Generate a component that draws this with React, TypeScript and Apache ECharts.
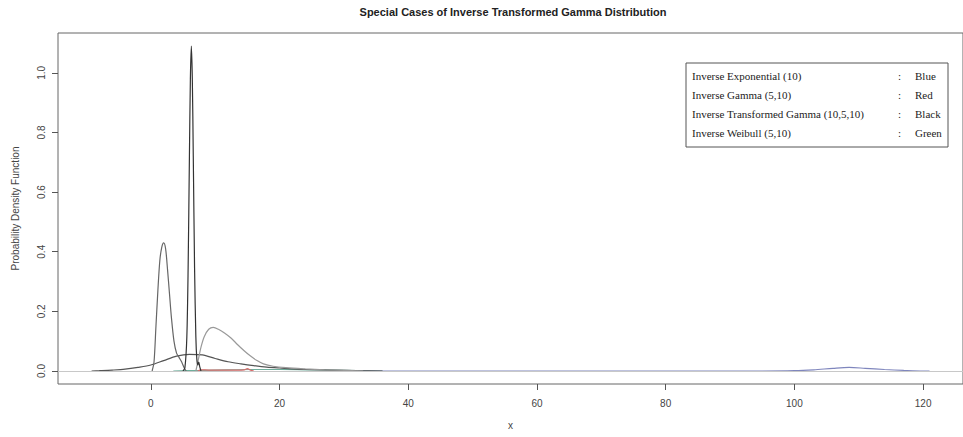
import React, { useEffect, useRef } from "react";
import * as echarts from "echarts";

const chartTitle = "Special Cases of Inverse Transformed Gamma Distribution";
const xTitle = "x";
const yTitle = "Probability Density Function";
const xTicks = [0, 20, 40, 60, 80, 100, 120];
const yTicks = [0, 0.2, 0.4, 0.6, 0.8, 1.0];

const legendNames = [
  "Inverse Exponential (10)",
  "Inverse Gamma (5,10)",
  "Inverse Transformed Gamma (10,5,10)",
  "Inverse Weibull (5,10)",
];
const legendColours = ["Blue", "Red", "Black", "Green"];

// narrow tall peak
const tallX = [5.0, 5.3, 5.6, 5.8, 6.0, 6.15, 6.3, 6.45, 6.6, 6.8, 7.0, 7.15, 7.3, 7.45, 7.6, 7.8];
const tallY = [0, 0.011, 0.115, 0.346, 0.72, 0.98, 1.09, 0.98, 0.72, 0.346, 0.115, 0.04, 0.02, 0.03, 0.015, 0];

// peak near 2
const peakX = [0.2, 0.5, 0.8, 1.1, 1.4, 1.7, 2.0, 2.3, 2.6, 2.9, 3.2, 3.6, 4.0, 4.4, 4.8, 5.2, 5.5];
const peakY = [0, 0.03, 0.15, 0.27, 0.37, 0.415, 0.43, 0.41, 0.34, 0.26, 0.18, 0.1, 0.06, 0.045, 0.03, 0.01, 0];

// broad low curve
const broadX = [-9.2, -8, -6, -4, -2, 0, 2, 4, 6, 8, 10, 12, 14, 16, 18, 20, 24, 28, 32, 36];
const broadY = [0, 0.001, 0.003, 0.006, 0.012, 0.02, 0.035, 0.05, 0.056, 0.054, 0.042, 0.031, 0.024, 0.018, 0.013, 0.01, 0.005, 0.003, 0.001, 0];

// medium peak near 10
const midX = [7.0, 7.4, 7.8, 8.3, 9.0, 9.7, 10.5, 11.5, 12.5, 13.5, 14.5, 15.5, 16.5, 17.5, 19, 21, 24, 27, 30, 33];
const midY = [0, 0.04, 0.08, 0.115, 0.14, 0.146, 0.14, 0.127, 0.11, 0.088, 0.068, 0.05, 0.035, 0.024, 0.016, 0.011, 0.007, 0.004, 0.002, 0];

// red near-zero segment
const redX = [7.3, 7.8, 9, 12, 14.5, 15, 15.5, 16];
const redY = [0, 0.004, 0.003, 0.003, 0.004, 0.008, 0.003, 0];

// green near-zero segment
const greenX = [3.5, 5.5, 8, 12, 16, 20, 24, 28, 32, 36];
const greenY = [0, 0.001, 0.002, 0.004, 0.005, 0.005, 0.004, 0.003, 0.001, 0];

// blue long tail with bump
const blueX = [30, 60, 95, 100, 103, 106, 108.5, 111, 114, 117, 120, 121];
const blueY = [0, 0, 0, 0.001, 0.004, 0.009, 0.012, 0.009, 0.005, 0.002, 0, 0];

const pairs = (xs: number[], ys: number[]) => xs.map((x, i) => [x, ys[i]]);

export default function App() {
  const ref = useRef<HTMLDivElement>(null);
  useEffect(() => {
    const chart = echarts.init(ref.current!, null, { renderer: "svg" });
    const line = (name: string, xs: number[], ys: number[], color: string, width = 1.2) => ({
      name,
      type: "line",
      data: pairs(xs, ys),
      showSymbol: false,
      smooth: 0.3,
      lineStyle: { color, width },
      z: 3,
    });
    const rowY = [76, 95, 114, 133];
    const legendText: any[] = [];
    legendNames.forEach((n, i) => {
      legendText.push({ type: "text", x: 692, y: rowY[i], style: { text: n, fill: "#222", font: "11px 'Liberation Serif'", textVerticalAlign: "middle" } });
      legendText.push({ type: "text", x: 898, y: rowY[i], style: { text: ":", fill: "#222", font: "11px 'Liberation Serif'", textVerticalAlign: "middle" } });
      legendText.push({ type: "text", x: 915, y: rowY[i], style: { text: legendColours[i], fill: "#222", font: "11px 'Liberation Serif'", textVerticalAlign: "middle" } });
    });
    chart.setOption({
      animation: false,
      backgroundColor: "#fff",
      grid: { left: 58, top: 33, right: -8, bottom: 53, show: true, borderColor: "#666", borderWidth: 1, backgroundColor: "transparent" },
      xAxis: {
        type: "value",
        min: -14.42,
        max: 126.2,
        splitLine: { show: false },
        axisLine: { show: false, onZero: false },
        axisTick: { show: true, length: 6, lineStyle: { color: "#555" }, customValues: xTicks },
        axisLabel: { customValues: xTicks, color: "#444", fontSize: 10, margin: 14, fontFamily: "Liberation Sans" },
        name: xTitle,
        nameLocation: "middle",
        nameGap: 36,
        nameTextStyle: { color: "#444", fontSize: 10, fontFamily: "Liberation Sans" },
      },
      yAxis: {
        type: "value",
        min: -0.0436,
        max: 1.1336,
        splitLine: { show: false },
        axisLine: { show: false, onZero: false },
        axisTick: { show: true, length: 6, lineStyle: { color: "#555" }, customValues: yTicks },
        axisLabel: {
          customValues: yTicks,
          rotate: 90,
          color: "#444",
          fontSize: 10,
          margin: 12,
          fontFamily: "Liberation Sans",
          formatter: (v: number) => v.toFixed(1),
        },
        name: yTitle,
        nameLocation: "middle",
        nameGap: 38,
        nameTextStyle: { color: "#444", fontSize: 10, fontFamily: "Liberation Sans" },
      },
      graphic: [
        { type: "text", x: 513, y: 12, style: { text: chartTitle, fill: "#222", font: "bold 11px 'Liberation Sans'", textAlign: "center", textVerticalAlign: "middle" } },
        { type: "rect", shape: { x: 686, y: 63, width: 262, height: 84 }, style: { fill: "#fff", stroke: "#555", lineWidth: 1 }, z: 10 },
        ...legendText.map((t) => ({ ...t, z: 11 })),
      ],
      series: [
        {
          name: "zero",
          type: "line",
          data: [],
          markLine: { silent: true, symbol: "none", label: { show: false }, lineStyle: { color: "#c8c8c8", type: "solid", width: 1 }, data: [{ yAxis: 0 }] },
        },
        line("green", greenX, greenY, "#6fae9c"),
        line("blue", blueX, blueY, "#7f86bd"),
        line("red", redX, redY, "#d86a6a"),
        line("broad", broadX, broadY, "#555"),
        line("mid", midX, midY, "#999"),
        line("peak", peakX, peakY, "#666"),
        line("tall", tallX, tallY, "#333"),
      ],
    });
    return () => chart.dispose();
  }, []);
  return <div ref={ref} style={{ position: "fixed", left: 0, top: 0, width: 963, height: 437, background: "#fff" }} />;
}
